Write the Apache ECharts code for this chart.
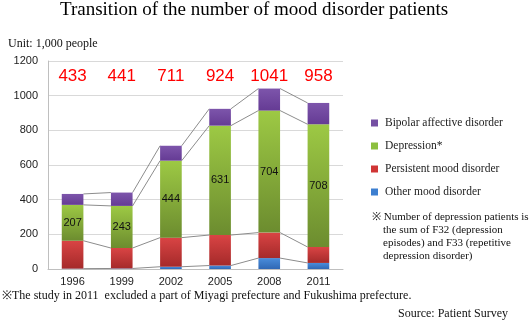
<!DOCTYPE html>
<html><head><meta charset="utf-8">
<script src="https://cdn.jsdelivr.net/npm/echarts@6/dist/echarts.min.js"></script>
<style>html,body{margin:0;padding:0;background:#fff}#c{width:530px;height:328px}</style>
</head><body><div id="c"></div>
<script>
var years = ['1996','1999','2002','2005','2008','2011'];
var otherMood = [2, 3, 13, 20, 63, 35];
var persistent = [161, 118, 168, 176, 147, 92];
var depression = [207, 243, 444, 631, 704, 708];
var bipolar = [63, 77, 86, 97, 127, 123];
var totals = [433, 441, 711, 924, 1041, 958];
var yTicks = [0, 200, 400, 600, 800, 1000, 1200];

var BAR_RATIO = 0.44;
var serif = "'Liberation Serif','Times New Roman',serif";
var sans = "'Liberation Sans',Arial,sans-serif";

function grad(top, bottom) {
  return new echarts.graphic.LinearGradient(0, 0, 0, 1, [{offset: 0, color: top}, {offset: 1, color: bottom}]);
}

var stacks = [otherMood, persistent, depression, bipolar];
var cum = years.map(function(_, i){
  var s = 0; return stacks.map(function(arr){ s += arr[i]; return s; });
});
var connData = [];
for (var i = 0; i < years.length - 1; i++) {
  for (var k = 0; k < stacks.length; k++) {
    connData.push([i, cum[i][k], cum[i+1][k]]);
  }
}
var totalLabelY = 1113;

var chart = echarts.init(document.getElementById('c'), null, {renderer: 'canvas'});
chart.setOption({
  animation: false,
  grid: {left: 48, right: 187, top: 61, bottom: 59, containLabel: false},
  xAxis: {
    type: 'category', data: years,
    axisLine: {show: true, lineStyle: {color: '#bfbfbf'}},
    axisTick: {show: false},
    axisLabel: {color: '#222', fontFamily: sans, fontSize: 11, margin: 7}
  },
  yAxis: {
    type: 'value', min: 0, max: 1200, interval: 200,
    axisLine: {show: true, lineStyle: {color: '#bfbfbf'}},
    axisTick: {show: false},
    splitLine: {lineStyle: {color: '#d9d9d9'}},
    axisLabel: {color: '#222', fontFamily: sans, fontSize: 11, margin: 10,
      formatter: function(v){ return yTicks.indexOf(v) >= 0 ? String(v) : ''; }}
  },
  legend: {
    orient: 'vertical', left: 366, top: 112, itemGap: 11,
    itemWidth: 7, itemHeight: 7, icon: 'rect',
    textStyle: {fontFamily: serif, fontSize: 11.5, color: '#222', padding: [0,0,0,2]},
    data: [
      {name: 'Bipolar affective disorder', itemStyle: {color: '#7550a3'}},
      {name: 'Depression*', itemStyle: {color: '#8cbf3f'}},
      {name: 'Persistent mood disorder', itemStyle: {color: '#d03535'}},
      {name: 'Other mood disorder', itemStyle: {color: '#3d7fd0'}}
    ]
  },
  graphic: [
    {type: 'text', left: 60, top: 1, style: {text: 'Transition of the number of mood disorder patients', font: '19px ' + serif, fill: '#000'}},
    {type: 'text', left: 8, top: 38, style: {text: 'Unit: 1,000 people', font: '12px ' + serif, fill: '#111'}},
    {type: 'text', left: 372, top: 211, style: {text: '\u203B Number of depression patients is\n    the sum of F32 (depression\n    episodes) and F33 (repetitive\n    depression disorder)', font: '11px ' + serif, fill: '#111', lineHeight: 13}},
    {type: 'text', left: 2, top: 290, style: {text: '\u203BThe study in 2011  excluded a part of Miyagi prefecture and Fukushima prefecture.', font: '12px ' + serif, fill: '#111'}},
    {type: 'text', right: 22, top: 308, style: {text: 'Source: Patient Survey', font: '12px ' + serif, fill: '#111'}}
  ],
  series: [
    {name: 'Other mood disorder', type: 'bar', stack: 's', barWidth: (BAR_RATIO*100)+'%', data: otherMood,
     itemStyle: {color: grad('#4a8ddb', '#2f68b5')}},
    {name: 'Persistent mood disorder', type: 'bar', stack: 's', data: persistent,
     itemStyle: {color: grad('#d94444', '#a52a2a')}},
    {name: 'Depression*', type: 'bar', stack: 's', data: depression,
     itemStyle: {color: grad('#9dc944', '#6c8c2f')},
     label: {show: true, position: 'inside', color: '#111', fontFamily: sans, fontSize: 11}},
    {name: 'Bipolar affective disorder', type: 'bar', stack: 's', data: bipolar,
     itemStyle: {color: grad('#7d55ab', '#653b94')}},
    {name: 'connectors', type: 'custom', silent: true, data: connData, z: 1,
     renderItem: function(params, api){
       var i = api.value(0);
       var p1 = api.coord([i, api.value(1)]);
       var p2 = api.coord([i + 1, api.value(2)]);
       var half = api.size([1, 0])[0] * BAR_RATIO / 2;
       return {type: 'line', shape: {x1: p1[0] + half, y1: p1[1], x2: p2[0] - half, y2: p2[1]},
               style: {stroke: '#8c8c8c', lineWidth: 1}};
     }},
    {name: 'totals', type: 'custom', silent: true, z: 5,
     data: years.map(function(_, i){ return [i, totalLabelY, totals[i]]; }),
     renderItem: function(params, api){
       var p = api.coord([api.value(0), api.value(1)]);
       return {type: 'text', x: p[0], y: p[1],
               style: {text: String(api.value(2)), fill: '#ff0000', font: '17px ' + sans,
                       textAlign: 'center', textVerticalAlign: 'middle'}};
     }}
  ]
});
</script></body></html>
